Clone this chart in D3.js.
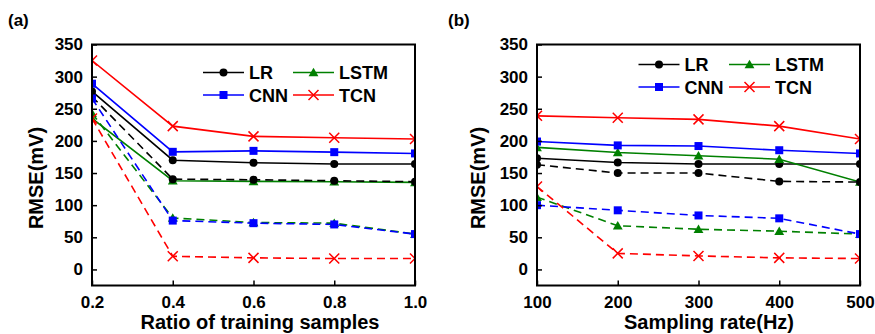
<!DOCTYPE html>
<html>
<head>
<meta charset="utf-8">
<script src="https://cdn.jsdelivr.net/npm/d3@7"></script>
<style>
  body { margin: 0; background: #fff; }
  text { font-family: "Liberation Sans", Arial, sans-serif; font-weight: bold; fill: #000; }
</style>
</head>
<body>
<div id="chart"></div>
<script>
// x values / tick labels
var ratioX = [0.2, 0.4, 0.6, 0.8, 1.0];
var rateX = [100, 200, 300, 400, 500];
var yTicks = [0, 50, 100, 150, 200, 250, 300, 350];
var models = ["LR", "LSTM", "CNN", "TCN"];

// panel (a) - solid lines
var lrA = [277, 170, 166, 164, 164];
var lstmA = [235, 138, 137, 136.5, 135.5];
var cnnA = [289, 183, 184.5, 182.5, 180.5];
var tcnA = [325, 223, 207, 205, 203];
// panel (a) - dashed lines
var lrDashA = [269, 140.5, 139.5, 138, 136.5];
var lstmDashA = [243, 80, 73, 72, 55];
var cnnDashA = [266, 76, 72, 70, 55];
var tcnDashA = [235, 20.5, 18, 17, 17];

// panel (b) - solid lines
var lrB = [173, 166.5, 164, 164, 164];
var lstmB = [190, 182, 177, 171.5, 136];
var cnnB = [199, 193, 192, 185.5, 180.5];
var tcnB = [239, 236, 233.5, 223, 203];
// panel (b) - dashed lines
var lrDashB = [163, 150, 150, 137, 136];
var lstmDashB = [112.5, 68, 62.5, 59.5, 55];
var cnnDashB = [100, 92, 84, 79.5, 55];
var tcnDashB = [129, 25, 21, 18, 17];

var colors = { LR: "#000000", LSTM: "#008000", CNN: "#0000ff", TCN: "#ff0000" };

var svg = d3.select("#chart")
  .append("svg")
  .attr("width", 875)
  .attr("height", 334);

function marker(g, name, x, y) {
  var c = colors[name];
  if (name == "LR") {
    g.append("circle").attr("cx", x).attr("cy", y).attr("r", 4).attr("fill", c);
  } else if (name == "CNN") {
    g.append("rect").attr("x", x - 4).attr("y", y - 4).attr("width", 8).attr("height", 8).attr("fill", c);
  } else if (name == "LSTM") {
    g.append("path").attr("d", d3.symbol(d3.symbolTriangle, 42)()).attr("transform", `translate(${x},${y + 1})`).attr("fill", c);
  } else {
    g.append("path")
      .attr("d", `M${x - 5},${y - 5}L${x + 5},${y + 5}M${x - 5},${y + 5}L${x + 5},${y - 5}`)
      .attr("stroke", c).attr("stroke-width", 1.5).attr("fill", "none");
  }
}

function drawPanel(p) {
  var g = svg.append("g");
  var x = d3.scaleLinear().domain(p.xDomain).range([p.left, p.right]);
  var y = d3.scaleLinear().domain([-25, 350]).range([285.5, 44.5]);

  var clipId = "clip" + p.label.replace(/\W/g, "");
  svg.append("clipPath").attr("id", clipId)
    .append("rect").attr("x", p.left).attr("y", 44.5)
    .attr("width", p.right - p.left).attr("height", 241);

  var plot = g.append("g").attr("clip-path", `url(#${clipId})`);
  var line = d3.line().x((d, i) => x(p.xs[i])).y(d => y(d));

  p.series.forEach(function(s) {
    plot.append("path")
      .attr("d", line(s.values))
      .attr("fill", "none")
      .attr("stroke", colors[s.name])
      .attr("stroke-width", 1.6)
      .attr("stroke-dasharray", s.dashed ? "8,5" : null);
    s.values.forEach(function(v, i) {
      marker(plot, s.name, x(p.xs[i]), y(v));
    });
  });

  // axes (ticks pointing inward)
  var bottomAxis = d3.axisBottom(x).tickValues(p.xs).tickSize(-5).tickPadding(10)
    .tickFormat(p.fmt);
  var leftAxis = d3.axisLeft(y).tickValues(yTicks).tickSize(-5).tickPadding(9);

  var bx = g.append("g").attr("transform", "translate(0,285.5)").call(bottomAxis);
  var ly = g.append("g").attr("transform", `translate(${p.left},0)`).call(leftAxis);
  [bx, ly].forEach(function(a) {
    a.select(".domain").remove();
    a.selectAll(".tick line").attr("stroke", "#000").attr("stroke-width", 1.5);
    a.selectAll(".tick text").style("font-size", "17px");
  });

  // frame
  g.append("rect")
    .attr("x", p.left).attr("y", 44.5)
    .attr("width", p.right - p.left).attr("height", 241)
    .attr("fill", "none").attr("stroke", "#000").attr("stroke-width", 2);

  // titles
  g.append("text")
    .attr("x", p.xTitleX).attr("y", 329)
    .attr("text-anchor", "middle")
    .style("font-size", "20px")
    .text(p.xTitle);

  g.append("text")
    .attr("transform", `translate(${p.yTitleX},178)rotate(-90)`)
    .attr("text-anchor", "middle")
    .style("font-size", "20px")
    .text("RMSE(mV)");

  g.append("text")
    .attr("x", p.labelX).attr("y", 26)
    .style("font-size", "17px")
    .text(p.label);

  // legend (solid lines only)
  var leg = g.append("g");
  models.forEach(function(name, i) {
    var col = i % 2, row = Math.floor(i / 2);
    var lx = p.legX[col], ly2 = p.legY[row];
    leg.append("line")
      .attr("x1", lx).attr("x2", lx + 41)
      .attr("y1", ly2).attr("y2", ly2)
      .attr("stroke", colors[name]).attr("stroke-width", 1.6);
    marker(leg, name, lx + 20.5, ly2);
    leg.append("text")
      .attr("x", lx + 46).attr("y", ly2 + 6.5)
      .style("font-size", "18px")
      .text(name);
  });
}

drawPanel({
  label: "(a)", labelX: 8,
  left: 92, right: 415,
  xDomain: [0.2, 1.0], xs: ratioX, fmt: d3.format(".1f"),
  xTitle: "Ratio of training samples", xTitleX: 260, yTitleX: 43,
  legX: [203, 293], legY: [72.5, 95],
  series: [
    { name: "LR", values: lrA },
    { name: "LSTM", values: lstmA },
    { name: "CNN", values: cnnA },
    { name: "TCN", values: tcnA },
    { name: "LR", values: lrDashA, dashed: true },
    { name: "LSTM", values: lstmDashA, dashed: true },
    { name: "CNN", values: cnnDashA, dashed: true },
    { name: "TCN", values: tcnDashA, dashed: true }
  ]
});

drawPanel({
  label: "(b)", labelX: 448,
  left: 537, right: 860,
  xDomain: [100, 500], xs: rateX, fmt: d3.format("d"),
  xTitle: "Sampling rate(Hz)", xTitleX: 709, yTitleX: 485,
  legX: [638.5, 729], legY: [64.5, 87],
  series: [
    { name: "LR", values: lrB },
    { name: "LSTM", values: lstmB },
    { name: "CNN", values: cnnB },
    { name: "TCN", values: tcnB },
    { name: "LR", values: lrDashB, dashed: true },
    { name: "LSTM", values: lstmDashB, dashed: true },
    { name: "CNN", values: cnnDashB, dashed: true },
    { name: "TCN", values: tcnDashB, dashed: true }
  ]
});
</script>
</body>
</html>
